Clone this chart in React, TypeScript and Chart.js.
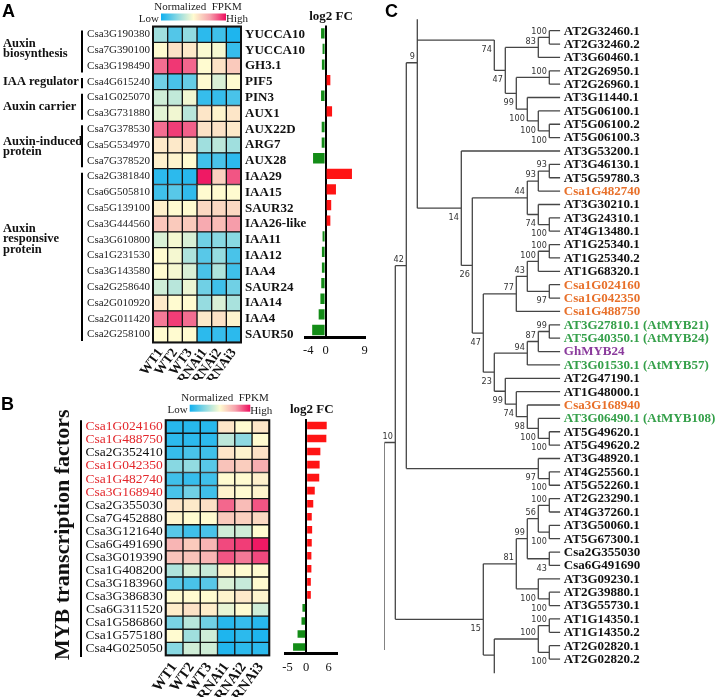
import React, { useEffect, useRef } from 'react';
import { Chart, registerables } from 'chart.js';
Chart.register(...registerables);

const SERIF = '"Liberation Serif", "Times New Roman", Times, serif';
const SANS = '"Liberation Sans", Arial, Helvetica, sans-serif';
const NARROW = '"Liberation Sans Narrow", "Arial Narrow", "DejaVu Sans Condensed", "Liberation Sans", sans-serif';

// ---------- shared ----------
const samples = ['WT1', 'WT2', 'WT3', 'RNAi1', 'RNAi2', 'RNAi3'];
const colorStops: [number, string][] = [
  [0, '#0fb0f0'], [0.25, '#88d8e2'], [0.5, '#fffbd0'], [0.75, '#f6a3ad'], [1, '#ee0d5e'],
];

// ---------- panel A ----------
const geneIdsA = ['Csa3G190380', 'Csa7G390100', 'Csa3G198490', 'Csa4G615240', 'Csa1G025070', 'Csa3G731880', 'Csa7G378530', 'Csa5G534970', 'Csa7G378520', 'Csa2G381840', 'Csa6G505810', 'Csa5G139100', 'Csa3G444560', 'Csa3G610800', 'Csa1G231530', 'Csa3G143580', 'Csa2G258640', 'Csa2G010920', 'Csa2G011420', 'Csa2G258100'];
const geneNamesA = ['YUCCA10', 'YUCCA10', 'GH3.1', 'PIF5', 'PIN3', 'AUX1', 'AUX22D', 'ARG7', 'AUX28', 'IAA29', 'IAA15', 'SAUR32', 'IAA26-like', 'IAA11', 'IAA12', 'IAA4', 'SAUR24', 'IAA14', 'IAA4', 'SAUR50'];
const heatA = [
  [0.30, 0.14, 0.27, 0.06, 0.10, 0.03],
  [0.50, 0.57, 0.55, 0.49, 0.48, 0.08],
  [0.84, 0.93, 0.85, 0.50, 0.57, 0.64],
  [0.20, 0.12, 0.18, 0.50, 0.42, 0.50],
  [0.40, 0.37, 0.47, 0.08, 0.08, 0.12],
  [0.44, 0.47, 0.35, 0.56, 0.52, 0.56],
  [0.84, 0.92, 0.86, 0.57, 0.57, 0.55],
  [0.55, 0.55, 0.56, 0.30, 0.36, 0.30],
  [0.53, 0.52, 0.50, 0.10, 0.12, 0.06],
  [0.06, 0.06, 0.05, 0.98, 0.62, 0.88],
  [0.10, 0.15, 0.07, 0.50, 0.50, 0.50],
  [0.53, 0.50, 0.50, 0.60, 0.60, 0.60],
  [0.65, 0.64, 0.64, 0.73, 0.68, 0.76],
  [0.42, 0.48, 0.42, 0.20, 0.25, 0.25],
  [0.50, 0.48, 0.33, 0.15, 0.28, 0.12],
  [0.50, 0.48, 0.42, 0.12, 0.33, 0.10],
  [0.40, 0.35, 0.46, 0.20, 0.10, 0.20],
  [0.55, 0.50, 0.50, 0.28, 0.42, 0.32],
  [0.82, 0.92, 0.84, 0.55, 0.57, 0.52],
  [0.50, 0.50, 0.50, 0.06, 0.08, 0.06],
];
const log2fcA = [-1.05, -0.7, -0.85, 1.1, -1.05, 1.5, -0.9, -0.9, -2.9, 6.1, 2.4, 1.3, 1.1, -0.7, -0.85, -0.85, -1.0, -1.2, -1.6, -3.1];
const fcTicksA = [-4, 0, 9];
const groupsA = [
  { lines: ['Auxin', 'biosynthesis'], first: 0, last: 2, at: 0.92 },
  { lines: ['IAA regulator'], first: 3, last: 3, at: 3.0 },
  { lines: ['Auxin carrier'], first: 4, last: 5, at: 4.6 },
  { lines: ['Auxin-induced', 'protein'], first: 6, last: 8, at: 7.1 },
  { lines: ['Auxin', 'responsive', 'protein'], first: 9, last: 19, at: 12.95 },
];

// ---------- panel B ----------
const geneIdsB = ['Csa1G024160', 'Csa1G488750', 'Csa2G352410', 'Csa1G042350', 'Csa1G482740', 'Csa3G168940', 'Csa2G355030', 'Csa7G452880', 'Csa3G121640', 'Csa6G491690', 'Csa3G019390', 'Csa1G408200', 'Csa3G183960', 'Csa3G386830', 'Csa6G311520', 'Csa1G586860', 'Csa1G575180', 'Csa4G025050'];
const highlightB = ['Csa1G024160', 'Csa1G488750', 'Csa1G042350', 'Csa1G482740', 'Csa3G168940'];
const heatB = [
  [0.05, 0.05, 0.05, 0.56, 0.50, 0.56],
  [0.06, 0.06, 0.06, 0.36, 0.26, 0.50],
  [0.08, 0.12, 0.10, 0.56, 0.52, 0.57],
  [0.25, 0.27, 0.15, 0.66, 0.63, 0.72],
  [0.10, 0.08, 0.10, 0.50, 0.50, 0.53],
  [0.12, 0.20, 0.10, 0.52, 0.50, 0.52],
  [0.56, 0.55, 0.58, 0.85, 0.68, 0.88],
  [0.52, 0.50, 0.50, 0.64, 0.62, 0.60],
  [0.15, 0.10, 0.12, 0.40, 0.40, 0.50],
  [0.70, 0.64, 0.70, 0.90, 0.92, 0.98],
  [0.66, 0.66, 0.70, 0.88, 0.82, 0.90],
  [0.33, 0.42, 0.38, 0.52, 0.50, 0.50],
  [0.15, 0.12, 0.15, 0.42, 0.38, 0.50],
  [0.50, 0.50, 0.50, 0.52, 0.55, 0.52],
  [0.54, 0.57, 0.54, 0.45, 0.50, 0.40],
  [0.22, 0.35, 0.20, 0.05, 0.08, 0.05],
  [0.50, 0.30, 0.40, 0.03, 0.06, 0.03],
  [0.25, 0.40, 0.40, 0.04, 0.06, 0.06],
];
const log2fcB = [5.5, 5.4, 3.8, 3.6, 3.5, 2.3, 1.9, 1.5, 1.6, 1.5, 1.4, 1.4, 1.25, 1.25, -1.0, -1.25, -2.3, -3.5];
const fcTicksB = [-5, 0, 6];
const groupB = 'MYB transcription factors';

// ---------- panel C (tree) ----------
const leafNames = ['AT2G32460.1', 'AT2G32460.2', 'AT3G60460.1', 'AT2G26950.1', 'AT2G26960.1', 'AT3G11440.1', 'AT5G06100.1', 'AT5G06100.2', 'AT5G06100.3', 'AT3G53200.1', 'AT3G46130.1', 'AT5G59780.3', 'Csa1G482740', 'AT3G30210.1', 'AT3G24310.1', 'AT4G13480.1', 'AT1G25340.1', 'AT1G25340.2', 'AT1G68320.1', 'Csa1G024160', 'Csa1G042350', 'Csa1G488750', 'AT3G27810.1 (AtMYB21)', 'AT5G40350.1 (AtMYB24)', 'GhMYB24', 'AT3G01530.1 (AtMYB57)', 'AT2G47190.1', 'AT1G48000.1', 'Csa3G168940', 'AT3G06490.1 (AtMYB108)', 'AT5G49620.1', 'AT5G49620.2', 'AT3G48920.1', 'AT4G25560.1', 'AT5G52260.1', 'AT2G23290.1', 'AT4G37260.1', 'AT3G50060.1', 'AT5G67300.1', 'Csa2G355030', 'Csa6G491690', 'AT3G09230.1', 'AT2G39880.1', 'AT3G55730.1', 'AT1G14350.1', 'AT1G14350.2', 'AT2G02820.1', 'AT2G02820.2'];
const leafKinds = ['at', 'at', 'at', 'at', 'at', 'at', 'at', 'at', 'at', 'at', 'at', 'at', 'csa', 'at', 'at', 'at', 'at', 'at', 'at', 'csa', 'csa', 'csa', 'myb', 'myb', 'gh', 'myb', 'at', 'at', 'csa', 'myb', 'at', 'at', 'at', 'at', 'at', 'at', 'at', 'at', 'at', 'at', 'at', 'at', 'at', 'at', 'at', 'at', 'at', 'at'];
const kindColors: Record<string, string> = { at: '#111111', csa: '#e8702a', myb: '#35a04a', gh: '#8a3a9c' };
const leafLevel = 16;
// [id, level, children (numbers = leaf index), bootstrap, label side, own y (leaf units), extend to]
type TNode = [string, number, (string | number)[], number | null, string, number | null, number | null];
const treeNodes: TNode[] = [
  ['n1', 15, [1, 2], 100, 'a', null, null],
  ['n2', 14, ['n1', 3], 83, 'a', null, null],
  ['n3', 15, [4, 5], 100, 'a', null, null],
  ['n4', 15, [8, 9], 100, 'b', null, null],
  ['n5', 14, [7, 'n4'], 100, 'b', null, null],
  ['n6', 13, [6, 'n5'], 100, 'b', null, null],
  ['n7', 12, ['n3', 'n6'], 99, 'b', null, null],
  ['n8', 11, ['n2', 'n7'], 47, 'b', null, null],
  ['n9', 10, ['n8'], 74, 'b', 1.70, null],
  ['n11', 15, [11, 12], 93, 'a', null, null],
  ['n12', 14, ['n11', 13], 93, 'a', null, null],
  ['n13', 15, [15, 16], 100, 'b', null, null],
  ['n15', 14, [14, 'n13'], 74, 'b', null, null],
  ['n44', 13, ['n12', 'n15'], 44, 'a', null, null],
  ['n17', 15, [17, 18], 100, 'a', null, null],
  ['n18', 14, ['n17', 19], 100, 'a', null, null],
  ['n20', 15, [20, 21], 97, 'b', null, null],
  ['n43', 13, ['n18', 'n20'], 43, 'a', null, null],
  ['n77', 12, ['n43', 22], 77, 'a', null, null],
  ['n24', 15, [23, 24], 99, 'a', null, null],
  ['n87', 14, ['n24', 25], 87, 'a', null, null],
  ['n94', 13, ['n87', 26], 94, 'a', null, null],
  ['n100d', 15, [31, 32], 100, 'b', null, null],
  ['n100c', 14, [30, 'n100d'], 100, 'b', null, null],
  ['n98', 13, [29, 'n100c'], 98, 'b', null, null],
  ['n74b', 12, [28, 'n98'], 74, 'b', null, null],
  ['n99b', 11, [27, 'n74b'], 99, 'b', null, null],
  ['n23', 10, ['n94', 'n99b'], 23, 'b', null, null],
  ['n47', 9, ['n77', 'n23'], 47, 'b', null, null],
  ['n26', 8, ['n44', 'n47'], 26, 'b', null, null],
  ['n14', 7, [10, 'n26'], 14, 'b', null, null],
  ['n10', 3, ['n9', 'n14'], 9, 'a', 3.40, 0.15],
  ['n100e', 15, [34, 35], 100, 'b', null, null],
  ['n97', 14, [33, 'n100e'], 97, 'b', null, null],
  ['n42', 2, ['n10', 'n97'], 42, 'a', null, null],
  ['n100g', 15, [36, 37], 100, 'a', null, null],
  ['n100h', 15, [38, 39], 100, 'b', null, null],
  ['n56', 14, ['n100g', 'n100h'], 56, 'a', null, null],
  ['n43b', 15, [40, 41], 43, 'b', null, null],
  ['n99c', 13, ['n56', 'n43b'], 99, 'a', null, null],
  ['n100i', 15, [43, 44], 100, 'b', null, null],
  ['n100f', 14, [42, 'n100i'], 100, 'b', null, null],
  ['n81', 12, ['n99c', 'n100f'], 81, 'a', null, null],
  ['n100k', 15, [45, 46], 100, 'a', null, null],
  ['n100l', 15, [47, 48], 100, 'b', null, null],
  ['n100j', 14, ['n100k', 'n100l'], 100, 'a', null, null],
  ['nb', 10, ['n100j'], null, '', 47.70, 49.06],
  ['n15b', 9, ['n81', 'nb'], 15, 'b', 45.03, null],
  ['n10b', 1, ['n42', 'n15b'], 10, 'a', null, null],
  ['root', 0, ['n10b'], null, '', null, 47.32],
];

// ---------- helpers ----------
function hexRgb(h: string) {
  const n = parseInt(h.slice(1), 16);
  return [(n >> 16) & 255, (n >> 8) & 255, n & 255];
}
function heatColor(v: number) {
  const t = Math.max(0, Math.min(1, v));
  for (let i = 1; i < colorStops.length; i++) {
    const [p1, c1] = colorStops[i];
    const [p0, c0] = colorStops[i - 1];
    if (t <= p1) {
      const f = (t - p0) / (p1 - p0);
      const a = hexRgb(c0), b = hexRgb(c1);
      const m = a.map((x, k) => Math.round(x + (b[k] - x) * f));
      return `rgb(${m[0]},${m[1]},${m[2]})`;
    }
  }
  return colorStops[colorStops.length - 1][1];
}

function heatDatasets(vals: number[][]) {
  return samples.map((s, j) => ({
    label: s,
    data: vals.map(() => [j, j + 1]),
    backgroundColor: vals.map((r) => heatColor(r[j])),
    borderColor: '#151515',
    borderWidth: 1,
    borderSkipped: false,
    grouped: false,
    barPercentage: 1,
    categoryPercentage: 1,
  }));
}

function drawLegend(ctx: CanvasRenderingContext2D, cx: number, top: number, g0: number, g1: number) {
  ctx.save();
  ctx.fillStyle = '#222';
  ctx.font = `11px ${SERIF}`;
  ctx.textAlign = 'center';
  ctx.textBaseline = 'middle';
  ctx.fillText('Normalized  FPKM', cx, top);
  const grad = ctx.createLinearGradient(g0, 0, g1, 0);
  colorStops.forEach(([p, c]) => grad.addColorStop(p, c));
  ctx.fillStyle = grad;
  ctx.fillRect(g0, top + 6.5, g1 - g0, 7);
  ctx.fillStyle = '#222';
  ctx.textAlign = 'right';
  ctx.fillText('Low', g0 - 2, top + 12);
  ctx.textAlign = 'left';
  ctx.fillText('High', g1, top + 12.5);
  ctx.restore();
}

function heatScales(ids: string[], idFont: number, idColor: any, areaLeft: number, xHeight: number, labelSize: number, labelPad: number) {
  return {
    x: {
      type: 'linear', min: 0, max: 6, position: 'bottom',
      grid: { display: false, drawTicks: false }, border: { display: false },
      afterBuildTicks: (s: any) => { s.ticks = samples.map((_, i) => ({ value: i + 0.5 })); },
      afterFit: (s: any) => { s.height = xHeight; },
      ticks: {
        autoSkip: false, minRotation: 54, maxRotation: 54, padding: labelPad, color: '#111',
        font: { family: SERIF, size: labelSize, weight: 'bold' },
        callback: (v: any) => samples[Math.floor(Number(v))],
      },
    },
    y: {
      type: 'category', labels: ids, offset: true,
      grid: { display: false, drawTicks: false }, border: { display: false },
      afterFit: (s: any) => { s.width = areaLeft; },
      ticks: { autoSkip: false, padding: 3, color: idColor, font: { family: SERIF, size: idFont } },
    },
  };
}

function fcConfig(labels: string[], values: number[], ticks: number[], min: number, max: number, pad: any, xHeight: number, barPct: number, tickPad: number, titleDx: number, titleY: number) {
  return {
    type: 'bar',
    data: {
      labels,
      datasets: [{
        data: values,
        backgroundColor: values.map((v) => (v >= 0 ? '#ff1414' : '#138c17')),
        borderWidth: 0,
        barPercentage: barPct,
        categoryPercentage: 1,
      }],
    },
    options: {
      indexAxis: 'y', animation: false, responsive: false, devicePixelRatio: 1,
      layout: { padding: pad },
      plugins: { legend: { display: false }, tooltip: { enabled: false } },
      scales: {
        x: {
          type: 'linear', min, max,
          afterBuildTicks: (s: any) => { s.ticks = ticks.map((v) => ({ value: v })); },
          afterFit: (s: any) => { s.height = xHeight; },
          grid: {
            color: (c: any) => (c.tick && c.tick.value === 0 ? '#000' : 'rgba(0,0,0,0)'),
            lineWidth: 2, drawTicks: false,
          },
          border: { display: true, color: '#000', width: 3 },
          ticks: { padding: tickPad, color: '#111', font: { family: SERIF, size: 12.5 } },
        },
        y: { type: 'category', display: false, offset: true },
      },
    },
    plugins: [{
      id: 'fcTitle',
      afterDraw(chart: any) {
        const { ctx, chartArea } = chart;
        ctx.save();
        ctx.fillStyle = '#111';
        ctx.font = `bold 13px ${SERIF}`;
        ctx.textAlign = 'center';
        ctx.textBaseline = 'middle';
        ctx.fillText('log2 FC', (chartArea.left + chartArea.right) / 2 + titleDx, titleY);
        ctx.restore();
      },
    }],
  };
}

function panelLetter(ctx: CanvasRenderingContext2D, ch: string, x: number, y: number) {
  ctx.save();
  ctx.fillStyle = '#000';
  ctx.font = `bold 18px ${SANS}`;
  ctx.textAlign = 'left';
  ctx.textBaseline = 'top';
  ctx.fillText(ch, x, y);
  ctx.restore();
}

// tree geometry through the chart scales
function buildTree() {
  const map: Record<string, TNode> = {};
  treeNodes.forEach((n) => { map[n[0]] = n; });
  const yOf: Record<string, number> = {};
  const childY = (c: string | number): number => (typeof c === 'number' ? c : nodeY(c));
  const nodeY = (id: string): number => {
    if (yOf[id] !== undefined) return yOf[id];
    const n = map[id];
    const ys = n[2].map(childY);
    const y = n[5] !== null ? (n[5] as number) : (ys[0] + ys[ys.length - 1]) / 2;
    yOf[id] = y;
    return y;
  };
  const pts: { x: number; y: number }[] = [];
  const gap = () => pts.push({ x: NaN, y: NaN });
  treeNodes.forEach((n) => {
    const y = nodeY(n[0]);
    const ys = n[2].map(childY);
    const all = [...ys, y];
    if (n[6] !== null) all.push(n[6] as number);
    pts.push({ x: n[1], y: Math.min(...all) }, { x: n[1], y: Math.max(...all) });
    gap();
    n[2].forEach((c) => {
      const cy = childY(c);
      const cx = typeof c === 'number' ? leafLevel : map[c][1];
      pts.push({ x: n[1], y: cy }, { x: cx, y: cy });
      gap();
    });
  });
  return { pts, yOf };
}

export default function App() {
  const refHA = useRef<HTMLCanvasElement>(null);
  const refFA = useRef<HTMLCanvasElement>(null);
  const refHB = useRef<HTMLCanvasElement>(null);
  const refFB = useRef<HTMLCanvasElement>(null);
  const refT = useRef<HTMLCanvasElement>(null);

  useEffect(() => {
    const charts: Chart[] = [];

    // heatmap A
    const hsA: any = heatScales(geneIdsA, 11, '#222', 153, 37.5, 13.5, 3);
    hsA.y2 = {
      type: 'category', labels: geneNamesA, position: 'right', offset: true,
      grid: { display: false, drawTicks: false }, border: { display: false },
      afterFit: (s: any) => { s.width = 79; },
      ticks: { autoSkip: false, padding: 4, color: '#111', font: { family: SERIF, size: 13, weight: 'bold' } },
    };
    charts.push(new Chart(refHA.current!, {
      type: 'bar',
      data: { labels: geneIdsA, datasets: heatDatasets(heatA) as any },
      options: {
        indexAxis: 'y', animation: false, responsive: false, devicePixelRatio: 1,
        layout: { padding: { top: 26.5, left: 0, right: 0, bottom: 0 } },
        plugins: { legend: { display: false }, tooltip: { enabled: false } },
        scales: hsA,
      },
      plugins: [{
        id: 'heatA',
        afterDraw(chart: any) {
          const { ctx, chartArea } = chart;
          const ys = chart.scales.y;
          const rowH = (chartArea.bottom - chartArea.top) / geneIdsA.length;
          ctx.save();
          ctx.strokeStyle = '#111';
          ctx.lineWidth = 2;
          ctx.strokeRect(chartArea.left, chartArea.top, chartArea.right - chartArea.left, chartArea.bottom - chartArea.top);
          ctx.lineWidth = 2;
          ctx.strokeStyle = '#000';
          groupsA.forEach((g) => {
            const y0 = ys.getPixelForValue(g.first) - rowH / 2 + 4;
            const y1 = ys.getPixelForValue(g.last) + rowH / 2 - 1.5;
            ctx.beginPath();
            ctx.moveTo(82, y0);
            ctx.lineTo(82, y1);
            ctx.stroke();
            const yc = ys.getPixelForValue(g.at);
            ctx.fillStyle = '#111';
            ctx.font = `bold 12.5px ${SERIF}`;
            ctx.textAlign = 'left';
            ctx.textBaseline = 'middle';
            const lh = 10.5;
            g.lines.forEach((t, k) => {
              ctx.fillText(t, 3, yc + (k - (g.lines.length - 1) / 2) * lh);
            });
          });
          ctx.restore();
          drawLegend(ctx, (chartArea.left + chartArea.right) / 2 + 1, chartArea.top - 19.5, chartArea.left + 8, chartArea.right - 15);
          panelLetter(ctx, 'A', 2, 3);
        },
      }],
    } as any));

    // fold change A
    charts.push(new Chart(refFA.current!, fcConfig(geneNamesA, log2fcA, fcTicksA, -4.6, 9,
      { left: 15.7, right: 15.5, top: 25.5, bottom: 0 }, 370 - 337.8, 0.66, 5, -4, 17) as any));

    // heatmap B
    const hsB: any = heatScales(geneIdsB, 13.5,
      (c: any) => (highlightB.includes(geneIdsB[c.index]) ? '#e3262b' : '#111'), 165.7, 317 - 275.4, 14.5, 4);
    charts.push(new Chart(refHB.current!, {
      type: 'bar',
      data: { labels: geneIdsB, datasets: heatDatasets(heatB) as any },
      options: {
        indexAxis: 'y', animation: false, responsive: false, devicePixelRatio: 1,
        layout: { padding: { top: 40.2, left: 0, right: 20.7, bottom: 0 } },
        plugins: { legend: { display: false }, tooltip: { enabled: false } },
        scales: hsB,
      },
      plugins: [{
        id: 'heatB',
        afterDraw(chart: any) {
          const { ctx, chartArea } = chart;
          ctx.save();
          ctx.strokeStyle = '#111';
          ctx.lineWidth = 2;
          ctx.strokeRect(chartArea.left, chartArea.top, chartArea.right - chartArea.left, chartArea.bottom - chartArea.top);
          ctx.strokeStyle = '#000';
          ctx.lineWidth = 2;
          ctx.beginPath();
          ctx.moveTo(81, chartArea.top);
          ctx.lineTo(81, chartArea.bottom + 1.5);
          ctx.stroke();
          ctx.translate(63, (chartArea.top + chartArea.bottom) / 2 - 3);
          ctx.rotate(-Math.PI / 2);
          ctx.fillStyle = '#111';
          ctx.font = `bold 22px ${SERIF}`;
          ctx.textAlign = 'center';
          ctx.textBaseline = 'middle';
          ctx.fillText(groupB, 0, 0);
          ctx.restore();
          drawLegend(ctx, (chartArea.left + chartArea.right) / 2 + 7.5, chartArea.top - 22, chartArea.left + 24, chartArea.right - 19);
          panelLetter(ctx, 'B', 1, 16);
        },
      }],
    } as any));

    // fold change B
    charts.push(new Chart(refFB.current!, fcConfig(geneIdsB, log2fcB, fcTicksB, -5.5, 8.25,
      { left: 7, right: 18, top: 39, bottom: 0 }, 317 - 273.5, 0.58, 7, 0.5, 30) as any));

    // tree C
    const { pts, yOf } = buildTree();
    charts.push(new Chart(refT.current!, {
      type: 'scatter',
      data: {
        datasets: [{
          data: pts,
          showLine: true,
          spanGaps: false,
          borderColor: '#454545',
          borderWidth: 1.3,
          pointRadius: 0,
          fill: false,
        }],
      },
      options: {
        animation: false, responsive: false, devicePixelRatio: 1,
        layout: { padding: { left: 24.3, right: 156.7, top: 17.3, bottom: 17.9 } },
        plugins: { legend: { display: false }, tooltip: { enabled: false } },
        scales: {
          x: { type: 'linear', min: 0, max: leafLevel, display: false },
          y: { type: 'linear', min: 0, max: 49.5, reverse: true, display: false },
        },
      },
      plugins: [{
        id: 'treeLabels',
        afterDraw(chart: any) {
          const { ctx } = chart;
          const xs = chart.scales.x, ys = chart.scales.y;
          ctx.save();
          ctx.font = `bold 13px ${SERIF}`;
          ctx.textAlign = 'left';
          ctx.textBaseline = 'middle';
          leafNames.forEach((name, i) => {
            ctx.fillStyle = kindColors[leafKinds[i]];
            ctx.fillText(name, xs.getPixelForValue(leafLevel) + 3.5, ys.getPixelForValue(i + 1) + 0.5);
          });
          ctx.font = `9px ${NARROW}`;
          ctx.fillStyle = '#333';
          ctx.textAlign = 'right';
          treeNodes.forEach((n) => {
            if (n[3] === null) return;
            const x = xs.getPixelForValue(n[1]) - 2.5;
            const y = ys.getPixelForValue(yOf[n[0]]);
            if (n[4] === 'a') {
              ctx.textBaseline = 'bottom';
              ctx.fillText(String(n[3]), x, y - 1.5);
            } else {
              ctx.textBaseline = 'top';
              ctx.fillText(String(n[3]), x, y + 5);
            }
          });
          ctx.restore();
          panelLetter(ctx, 'C', 25, 3);
        },
      }],
    } as any));

    return () => { charts.forEach((c) => c.destroy()); };
  }, []);

  const abs = (l: number, t: number, w: number, h: number): React.CSSProperties => ({
    position: 'absolute', left: l, top: t, width: w, height: h,
  });

  return (
    <div style={{ position: 'absolute', left: 0, top: 0, width: 717, height: 697, background: '#fff', overflow: 'hidden' }}>
      <canvas ref={refHA} width={320} height={380} style={abs(0, 0, 320, 380)} />
      <canvas ref={refFA} width={90} height={370} style={abs(290, 0, 90, 370)} />
      <canvas ref={refHB} width={290} height={317} style={abs(0, 380, 290, 317)} />
      <canvas ref={refFB} width={80} height={317} style={abs(275, 380, 80, 317)} />
      <canvas ref={refT} width={357} height={697} style={abs(360, 0, 357, 697)} />
    </div>
  );
}
